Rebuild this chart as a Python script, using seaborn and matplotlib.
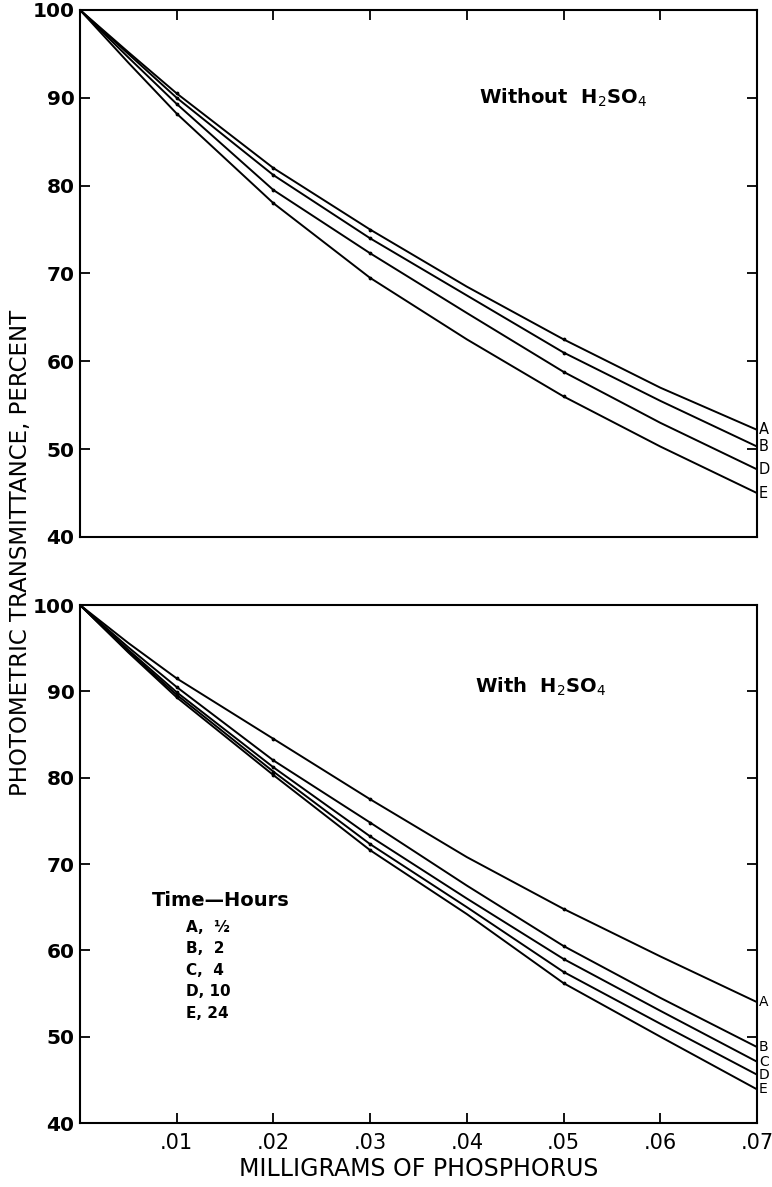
import numpy as np
import pandas as pd
import seaborn as sns
import matplotlib.pyplot as plt

# milligrams of phosphorus
mg_p = [0.0, 0.005, 0.01, 0.02, 0.03, 0.04, 0.05, 0.06, 0.07]

# transmittance, without H2SO4
no_acid_A = [100, 95.2, 90.5, 82.0, 75.0, 68.5, 62.5, 57.0, 52.2]
no_acid_B = [100, 95.0, 90.0, 81.2, 74.0, 67.5, 61.0, 55.5, 50.3]
no_acid_D = [100, 94.6, 89.3, 79.5, 72.3, 65.5, 58.8, 53.0, 47.7]
no_acid_E = [100, 94.0, 88.2, 78.0, 69.5, 62.5, 56.0, 50.3, 45.0]

# transmittance, with H2SO4
acid_A = [100, 95.6, 91.5, 84.5, 77.5, 70.8, 64.8, 59.3, 54.0]
acid_B = [100, 95.1, 90.5, 82.0, 74.8, 67.5, 60.5, 54.5, 48.8]
acid_C = [100, 94.8, 89.9, 81.2, 73.2, 66.0, 59.0, 53.0, 47.1]
acid_D = [100, 94.6, 89.6, 80.7, 72.3, 65.0, 57.5, 51.5, 45.6]
acid_E = [100, 94.5, 89.3, 80.3, 71.6, 64.2, 56.2, 50.0, 43.9]

legend_lines = ["A,  \u00bd", "B,  2", "C,  4", "D, 10", "E, 24"]
x_ticks = [0.01, 0.02, 0.03, 0.04, 0.05, 0.06, 0.07]
x_ticklabels = [".01", ".02", ".03", ".04", ".05", ".06", ".07"]
y_ticks = [40, 50, 60, 70, 80, 90, 100]


def to_long(curves):
    rows = []
    for name, vals in curves.items():
        for x, y in zip(mg_p, vals):
            rows.append({"mg": x, "T": y, "curve": name})
    return pd.DataFrame(rows)


top = to_long({"A": no_acid_A, "B": no_acid_B, "D": no_acid_D, "E": no_acid_E})
bot = to_long({"A": acid_A, "B": acid_B, "C": acid_C, "D": acid_D, "E": acid_E})

sns.set_style("ticks")
plt.rcParams['font.family'] = ['DejaVu Sans']
plt.rcParams['text.color'] = 'black'
plt.rcParams['xtick.color'] = 'black'
plt.rcParams['ytick.color'] = 'black'
plt.rcParams['axes.labelcolor'] = 'black'

fig = plt.figure(figsize=(7.72, 11.87), dpi=100)
ax1 = fig.add_axes([0.1036, 0.5476, 0.877, 0.444])
ax2 = fig.add_axes([0.1036, 0.0539, 0.877, 0.4364])

for ax, df in [(ax1, top), (ax2, bot)]:
    sns.lineplot(data=df, x="mg", y="T", units="curve", estimator=None,
                 color="black", linewidth=1.4, ax=ax)
    dots = df[df["mg"].isin([0.01, 0.02, 0.03, 0.05])]
    ax.scatter(dots["mg"], dots["T"], s=3, color="black", zorder=3)
    ax.set_xlim(0, 0.07)
    ax.set_ylim(40, 100)
    ax.set_xticks(x_ticks)
    ax.set_yticks(y_ticks)
    ax.tick_params(direction="in", length=7, width=1.3, top=True, right=True,
                   labelsize=14.5, pad=4)
    for lab in ax.get_yticklabels():
        lab.set_fontweight("bold")
    ax.set_xlabel("")
    ax.set_ylabel("")
    for s in ax.spines.values():
        s.set_linewidth(1.5)
        s.set_color("black")

ax1.tick_params(axis="x", bottom=False, labelbottom=False)
ax2.tick_params(axis="x", top=False, pad=7, labelsize=15)
ax2.set_xticklabels(x_ticklabels)

# curve letters on right side
for name, vals in [("A", no_acid_A), ("B", no_acid_B), ("D", no_acid_D), ("E", no_acid_E)]:
    ax1.text(0.0702, vals[-1], name, fontsize=10.5, ha="left", va="center", clip_on=False)
for name, vals in [("A", acid_A), ("B", acid_B), ("C", acid_C), ("D", acid_D), ("E", acid_E)]:
    ax2.text(0.0702, vals[-1], name, fontsize=10, ha="left", va="center", clip_on=False)

ax1.text(0.0413, 90, "Without  H$_2$SO$_4$", fontsize=14, fontweight="bold",
         ha="left", va="center")
ax2.text(0.0408, 90.5, "With  H$_2$SO$_4$", fontsize=14, fontweight="bold",
         ha="left", va="center")

ax2.text(0.0074, 65.8, "Time\u2014Hours", fontsize=14, fontweight="bold", ha="left", va="center")
for i, t in enumerate(legend_lines):
    ax2.text(0.011, 62.7 - i * 2.5, t, fontsize=11, fontweight="bold", ha="left", va="center")

ax2.set_xlabel("MILLIGRAMS OF PHOSPHORUS", fontsize=17, labelpad=3)
fig.text(0.027, 0.534, "PHOTOMETRIC TRANSMITTANCE, PERCENT", rotation=90,
         fontsize=16.5, ha="center", va="center")

fig.savefig("out.png", dpi=100)
